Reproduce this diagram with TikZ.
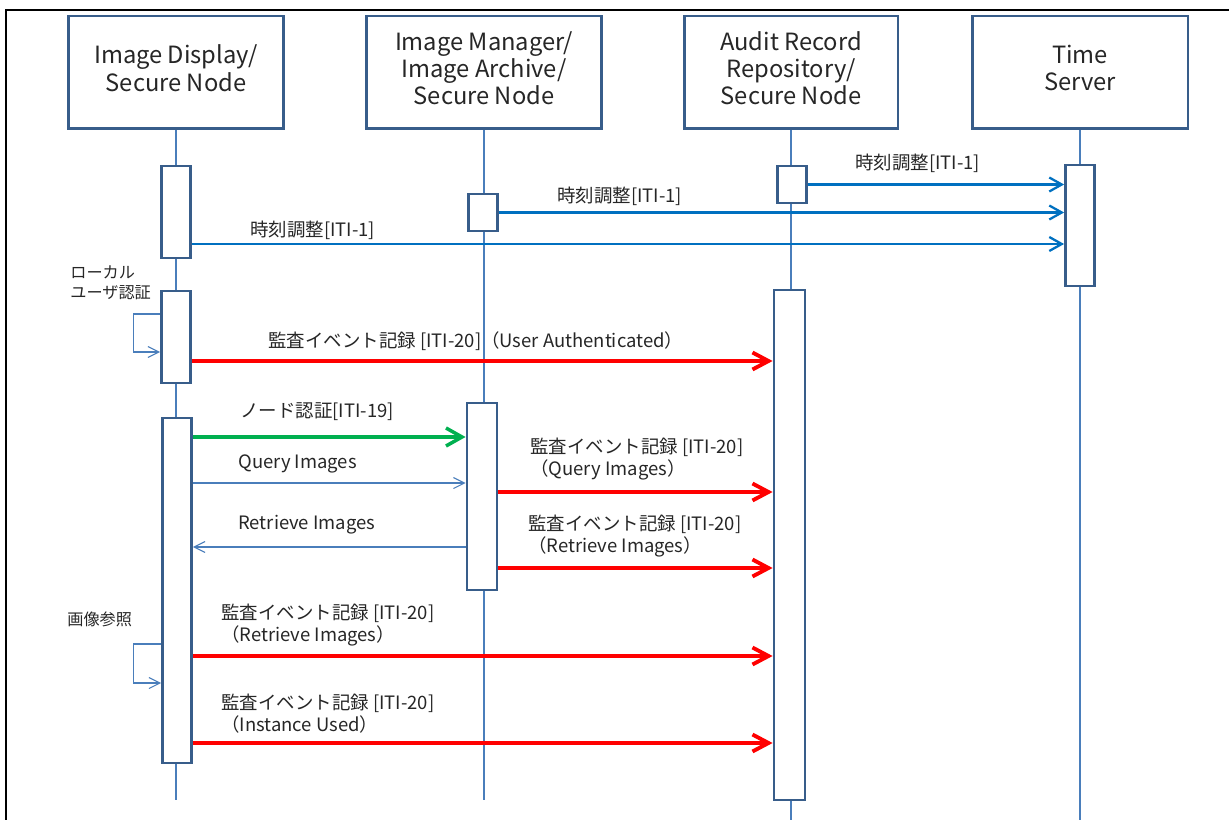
\documentclass[tikz,border=0pt]{standalone}
\usepackage{fontspec}
\setmainfont{Noto Sans CJK JP}
\usetikzlibrary{arrows.meta}
\definecolor{seqHead}{HTML}{385D8A}
\definecolor{seqLife}{HTML}{4A7EBB}
\definecolor{seqSync}{HTML}{0070C0}
\definecolor{seqAudit}{HTML}{FF0000}
\definecolor{seqNode}{HTML}{00B050}
\definecolor{seqText}{HTML}{262626}
\tikzset{
    headBox/.style={
        rectangle,
        draw=seqHead,
        line width=1.7pt,
        fill=white,
        minimum height=2.26cm,
        text depth=0.18cm,
        align=center,
        font=\fontsize{13.5}{15.6}\selectfont,
        text=seqText
    },
    actBox/.style={rectangle, draw=seqHead, line width=1.6pt, fill=white, minimum width=0.58cm},
    lifeLine/.style={draw=seqLife, line width=0.7pt},
    % Arrows
    syncArrow/.style={-{Straight Barb[length=2.5mm, width=2.8mm]}, draw=seqSync, line width=1.3pt},
    auditArrow/.style={-{Straight Barb[length=3.2mm, width=3.4mm]}, draw=seqAudit, line width=2.2pt},
    nodeArrow/.style={-{Straight Barb[length=3.2mm, width=3.6mm]}, draw=seqNode, line width=2pt},
    msgArrow/.style={-{Straight Barb[length=2.2mm, width=2.2mm]}, draw=seqLife, line width=0.6pt},
    msgLabel/.style={font=\fontsize{10.5}{12.5}\selectfont, text=seqText, align=left, inner sep=0pt},
    noteLabel/.style={font=\fontsize{9.2}{11.3}\selectfont, text=seqText, align=left, inner sep=0pt}
}
\begin{document}
\begin{tikzpicture}[x=0.02cm, y=-0.02cm]
\useasboundingbox (0,0) rectangle (1229,820);
\draw[line width=1.5pt] (6,820) -- (6,10) -- (1229,10);

% lifeline heads
\node[headBox, minimum width=4.3cm] (hDisp) at (176,72.5) {Image Display/\\Secure Node};
\node[headBox, minimum width=4.72cm] (hMgr) at (484,72.5) {Image Manager/\\Image Archive/\\Secure Node};
\node[headBox, minimum width=4.28cm] (hAudit) at (791,72.5) {Audit Record\\Repository/\\Secure Node};
\node[headBox, minimum width=4.32cm] (hTime) at (1080,72.5) {Time\\Server};

\draw[lifeLine] (hDisp) -- (176,800);
\draw[lifeLine] (hMgr) -- (484,800);
\draw[lifeLine] (hAudit) -- (791,820);
\draw[lifeLine] (hTime) -- (1080,820);

% activations
\node[actBox, minimum height=1.84cm] (A1) at (176,212) {};
\node[actBox, minimum height=1.84cm] (A2) at (176,337) {};
\node[actBox, minimum height=6.9cm] (A3) at (177,590.5) {};
\node[actBox, minimum height=0.74cm] (B1) at (483,212.5) {};
\node[actBox, minimum height=3.74cm, minimum width=0.6cm] (B2) at (482,496.5) {};
\node[actBox, minimum height=0.74cm] (C1) at (792,184.5) {};
\node[actBox, minimum height=10.2cm, minimum width=0.62cm] (C2) at (789.5,545) {};
\node[actBox, minimum height=2.42cm] (D1) at (1080,225.5) {};

% messages
\draw[syncArrow] (C1.east) -- (C1.east -| D1.west);
\draw[syncArrow] (B1.east) -- (B1.east -| D1.west);
\draw[syncArrow] (A1.east |- 0,244) -- (D1.west |- 0,244);
\draw[auditArrow] (A2.east |- 0,361) -- (C2.west |- 0,361);
\draw[nodeArrow] (A3.east |- 0,437) -- (B2.west |- 0,437);
\draw[msgArrow] (A3.east |- 0,483) -- (B2.west |- 0,483);
\draw[msgArrow] (B2.west |- 0,547) -- (A3.east |- 0,547);
\draw[auditArrow] (B2.east |- 0,492) -- (C2.west |- 0,492);
\draw[auditArrow] (B2.east |- 0,568) -- (C2.west |- 0,568);
\draw[auditArrow] (A3.east |- 0,656) -- (C2.west |- 0,656);
\draw[auditArrow] (A3.east |- 0,743) -- (C2.west |- 0,743);

% self calls
\draw[msgArrow] (A2.west |- 0,314) -- ++(-27,0) -- ++(0,38) -- ++(27,0);
\draw[msgArrow] (A3.west |- 0,644) -- ++(-28,0) -- ++(0,39) -- ++(28,0);

% labels
\node[msgLabel, anchor=west] (lSyncC) at (855,163) {時刻調整[ITI-1]};
\node[msgLabel, anchor=west] (lSyncB) at (557,196) {時刻調整[ITI-1]};
\node[msgLabel, anchor=west] (lSyncA) at (250,230) {時刻調整[ITI-1]};
\node[msgLabel, anchor=west] (lAuth) at (268,341) {監査イベント記録 [ITI-20]（User Authenticated）};
\node[msgLabel, anchor=west] (lNode) at (240,412) {ノード認証[ITI-19]};
\node[msgLabel, anchor=west] (lQuery) at (238,464) {Query Images};
\node[msgLabel, anchor=west] (lRetr) at (238,525) {Retrieve Images};
\node[msgLabel, anchor=west] (lAudQ) at (530,459) {監査イベント記録 [ITI-20]\\（Query Images）};
\node[msgLabel, anchor=west] (lAudR) at (528,536.5) {監査イベント記録 [ITI-20]\\（Retrieve Images）};
\node[msgLabel, anchor=west] (lAudV) at (221,625) {監査イベント記録 [ITI-20]\\（Retrieve Images）};
\node[msgLabel, anchor=west] (lAudU) at (221,714) {監査イベント記録 [ITI-20]\\（Instance Used）};
\node[noteLabel, anchor=west] (nLogin) at (70,283) {ローカル\\ユーザ認証};
\node[noteLabel, anchor=west] (nView) at (67,619) {画像参照};
\end{tikzpicture}
\end{document}
